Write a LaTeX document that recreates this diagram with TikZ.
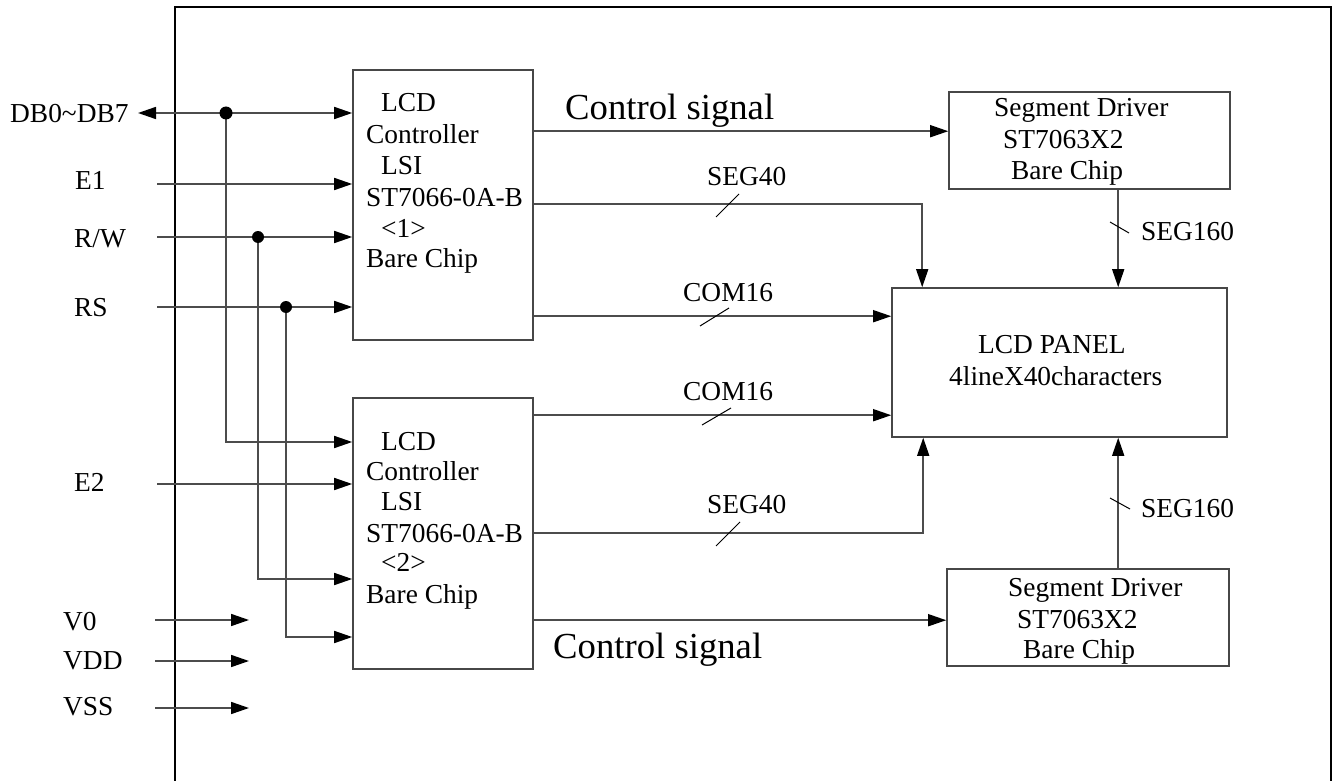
\documentclass[tikz,border=0pt]{standalone}
\usepackage{fontspec}
\setmainfont{Liberation Serif}
\usetikzlibrary{arrows.meta}
\begin{document}
\begin{tikzpicture}[x=1pt,y=-1pt,
  wire/.style={line width=1.6pt, draw=black!70},
  tip/.tip={Triangle[length=18pt,width=12pt,color=black]},
  arr/.style={wire, -tip},
  biarr/.style={wire, tip-tip},
  blk/.style={draw=black!72, line width=1.6pt, inner sep=0pt, fill=none},
  lbl/.style={anchor=base west, inner sep=0pt, font=\fontsize{27.4}{32}\selectfont},
  big/.style={anchor=base west, inner sep=0pt, font=\fontsize{36.7}{42}\selectfont},
  tick/.style={line width=1pt, draw=black},
  dot/.style={fill=black}]
\useasboundingbox (0,0) rectangle (1333,781);
% frame
\draw[line width=2.4pt] (175,781) -- (175,7) -- (1331,7) -- (1331,781);

% blocks
\node[blk, minimum width=180pt, minimum height=270pt] (ctrl1) at (443,205) {};
\node[blk, minimum width=180pt, minimum height=271pt] (ctrl2) at (443,533.5) {};
\node[blk, minimum width=281pt, minimum height=97pt] (seg1) at (1089.5,140.5) {};
\node[blk, minimum width=335pt, minimum height=149pt] (lcd) at (1059.5,362.5) {};
\node[blk, minimum width=282pt, minimum height=97pt] (seg2) at (1088,617.5) {};

% controller 1 text
\node[lbl] (c1t1) at (381,112) {LCD};
\node[lbl] (c1t2) at (366,143) {Controller};
\node[lbl] (c1t3) at (381,175) {LSI};
\node[lbl] (c1t4) at (366,206) {ST7066-0A-B};
\node[lbl] (c1t5) at (381,237) {<1>};
\node[lbl] (c1t6) at (366,267) {Bare Chip};
% controller 2 text
\node[lbl] (c2t1) at (381,450) {LCD};
\node[lbl] (c2t2) at (366,480) {Controller};
\node[lbl] (c2t3) at (381,510) {LSI};
\node[lbl] (c2t4) at (366,542) {ST7066-0A-B};
\node[lbl] (c2t5) at (381,571) {<2>};
\node[lbl] (c2t6) at (366,603) {Bare Chip};
% segment drivers
\node[lbl] (s1t1) at (994,117) {Segment Driver};
\node[lbl] (s1t2) at (1003,149) {ST7063X2};
\node[lbl] (s1t3) at (1011,179) {Bare Chip};
\node[lbl] (s2t1) at (1008,596) {Segment Driver};
\node[lbl] (s2t2) at (1017,628) {ST7063X2};
\node[lbl] (s2t3) at (1023,658) {Bare Chip};
% panel
\node[lbl] (p1) at (978,353) {LCD PANEL};
\node[lbl] (p2) at (949,385) {4lineX40characters};

% left labels
\node[lbl] (ldb) at (10,123) {DB0\textasciitilde DB7};
\node[lbl] (le1) at (75,189) {E1};
\node[lbl] (lrw) at (74,247) {R/W};
\node[lbl] (lrs) at (74,316) {RS};
\node[lbl] (le2) at (74,491) {E2};
\node[lbl] (lv0) at (63,630) {V0};
\node[lbl] (lvdd) at (63,669) {VDD};
\node[lbl] (lvss) at (63,715) {VSS};

% input coordinates
\coordinate (dbL) at (138,113);
\coordinate (dbJ) at (226,113);
\coordinate (db2) at (226,442);
\coordinate (e1in) at (157,184);
\coordinate (rwin) at (157,237);
\coordinate (rwJ) at (258,237);
\coordinate (rw2) at (258,579);
\coordinate (rsin) at (157,307);
\coordinate (rsJ) at (286,307);
\coordinate (rs2) at (286,637);
\coordinate (e2in) at (157,484);
\coordinate (v0a) at (155,620);
\coordinate (v0b) at (249,620);
\coordinate (vdda) at (155,661);
\coordinate (vddb) at (249,661);
\coordinate (vssa) at (155,708);
\coordinate (vssb) at (249,708);

\draw[biarr] (dbL) -- (dbL -| ctrl1.west);
\draw[arr] (dbJ) -- (db2) -- (db2 -| ctrl2.west);
\draw[arr] (e1in) -- (e1in -| ctrl1.west);
\draw[arr] (rwin) -- (rwin -| ctrl1.west);
\draw[arr] (rwJ) -- (rw2) -- (rw2 -| ctrl2.west);
\draw[arr] (rsin) -- (rsin -| ctrl1.west);
\draw[arr] (rsJ) -- (rs2) -- (rs2 -| ctrl2.west);
\draw[arr] (e2in) -- (e2in -| ctrl2.west);
\draw[arr] (v0a) -- (v0b);
\draw[arr] (vdda) -- (vddb);
\draw[arr] (vssa) -- (vssb);
\fill[dot] (dbJ) circle (6.5pt);
\fill[dot] (rwJ) circle (6pt);
\fill[dot] (rsJ) circle (6pt);

% outputs of controller 1
\coordinate (o1a) at ([yshift=-62pt]ctrl1.north east);
\coordinate (o1b) at ([yshift=-135pt]ctrl1.north east);
\coordinate (o1c) at ([yshift=-247pt]ctrl1.north east);
\coordinate (pin1) at ([xshift=31pt]lcd.north west);
\coordinate (pin2) at ([xshift=32pt]lcd.south west);
\draw[arr] (o1a) -- (o1a -| seg1.west);
\draw[arr] (o1b) -| (pin1);
\draw[arr] (o1c) -- (o1c -| lcd.west);
% outputs of controller 2
\coordinate (o2a) at ([yshift=-18pt]ctrl2.north east);
\coordinate (o2b) at ([yshift=-136pt]ctrl2.north east);
\coordinate (o2c) at ([yshift=-223pt]ctrl2.north east);
\draw[arr] (o2a) -- (o2a -| lcd.west);
\draw[arr] (o2b) -| (pin2);
\draw[arr] (o2c) -- (o2c -| seg2.west);
% segment drivers to panel
\coordinate (s160a) at ([xshift=170pt]seg1.south west);
\coordinate (s160b) at ([xshift=172pt]seg2.north west);
\draw[arr] (s160a) -- (s160a |- lcd.north);
\draw[arr] (s160b) -- (s160b |- lcd.south);

% bus ticks
\draw[tick] (716,217) -- (739,194);
\draw[tick] (700,326) -- (729,308);
\draw[tick] (702,425) -- (731,408);
\draw[tick] (716,546) -- (740,522);
\draw[tick] (1110,222) -- (1129,233);
\draw[tick] (1110,498) -- (1130,509);

% connector labels
\node[big] (cs1) at (565,120) {Control signal};
\node[big] (cs2) at (553,658) {Control signal};
\node[lbl] (sg1) at (707,185) {SEG40};
\node[lbl] (cm1) at (683,301) {COM16};
\node[lbl] (cm2) at (683,400) {COM16};
\node[lbl] (sg2) at (707,513) {SEG40};
\node[lbl] (sx1) at (1141,240) {SEG160};
\node[lbl] (sx2) at (1141,517) {SEG160};
\end{tikzpicture}
\end{document}
